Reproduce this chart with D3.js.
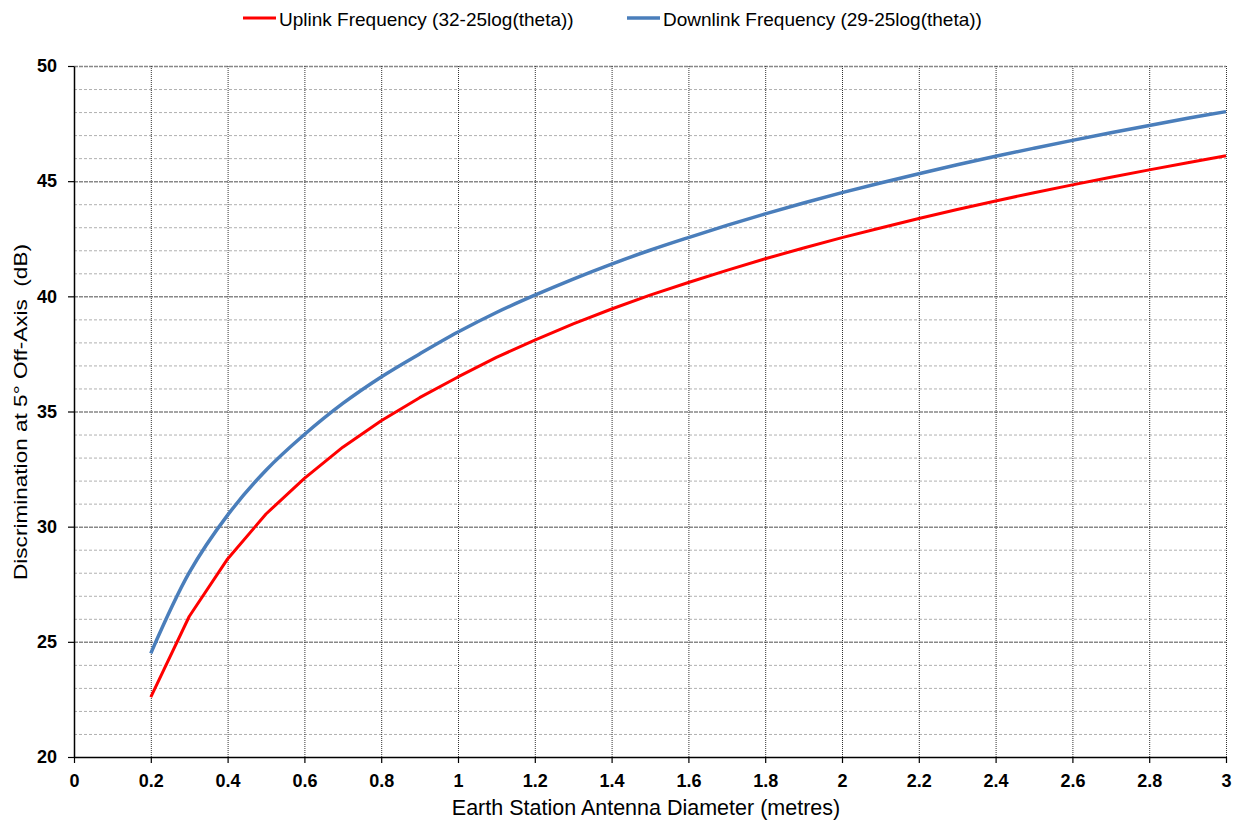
<!DOCTYPE html>
<html>
<head>
<meta charset="utf-8">
<script src="https://cdn.jsdelivr.net/npm/d3@7"></script>
<style>
  body { margin: 0; background: #fff; }
  svg { font-family: "Liberation Sans", Arial, sans-serif; }
</style>
</head>
<body>
<div class="box"></div>
<script>
// diameters (metres)
let diam = [0.2, 0.3, 0.4, 0.5, 0.6, 0.7, 0.8, 0.9, 1.0, 1.1, 1.2, 1.3, 1.4, 1.5,
    1.6, 1.7, 1.8, 1.9, 2.0, 2.1, 2.2, 2.3, 2.4, 2.5, 2.6, 2.7, 2.8, 2.9, 3.0]
let uplink = [22.6, 26.1, 28.6, 30.55, 32.1, 33.45, 34.6, 35.6, 36.5, 37.35, 38.1, 38.8, 39.45, 40.05,
    40.6, 41.13, 41.63, 42.1, 42.55, 42.97, 43.38, 43.77, 44.14, 44.5, 44.84, 45.17, 45.49, 45.8, 46.1]
let downlink = [24.5, 28.0, 30.5, 32.45, 34.0, 35.35, 36.5, 37.5, 38.45, 39.3, 40.05, 40.75, 41.4, 42.0,
    42.55, 43.08, 43.58, 44.05, 44.5, 44.92, 45.32, 45.71, 46.08, 46.43, 46.77, 47.1, 47.42, 47.73, 48.02]
let xTicks = [0, 0.2, 0.4, 0.6, 0.8, 1, 1.2, 1.4, 1.6, 1.8, 2, 2.2, 2.4, 2.6, 2.8, 3]
let yTicks = [20, 25, 30, 35, 40, 45, 50]
let yMinor = d3.range(20, 51, 1)
let seriesNames = ["Uplink Frequency (32-25log(theta))", "Downlink Frequency (29-25log(theta))"]

let W = 1239, H = 822
let pl = 74, pr = 1226, pt = 66, pb = 757

let svg = d3.select('.box').append('svg')
    .attr('width', W).attr('height', H)

let x = d3.scaleLinear().domain([0, 3]).range([pl, pr])
let y = d3.scaleLinear().domain([20, 50]).range([pb, pt])

// minor horizontal grid
svg.append('g').selectAll('line').data(yMinor.filter(v => v % 5 != 0)).join('line')
    .attr('x1', pl).attr('x2', pr)
    .attr('y1', d => y(d) + 0.5).attr('y2', d => y(d) + 0.5)
    .style('stroke', '#b0b0b0').style('stroke-width', 1).style('stroke-dasharray', '3,2')

// major horizontal grid
svg.append('g').selectAll('line').data(yTicks.filter(v => v > 20)).join('line')
    .attr('x1', pl).attr('x2', pr)
    .attr('y1', d => y(d) + 0.5).attr('y2', d => y(d) + 0.5)
    .style('stroke', '#888').style('stroke-width', 1.5).style('stroke-dasharray', '4,1')

// vertical grid
svg.append('g').selectAll('line').data(xTicks.filter(v => v > 0)).join('line')
    .attr('x1', d => x(d) + 0.5).attr('x2', d => x(d) + 0.5)
    .attr('y1', pt).attr('y2', pb)
    .style('stroke', '#333').style('stroke-width', 1).style('stroke-dasharray', '1,1')

// axes
let xAxis = svg.append('g')
    .attr('transform', `translate(0,${pb})`)
    .call(d3.axisBottom(x).tickValues(xTicks).tickSize(6).tickSizeOuter(0)
        .tickFormat(d3.format('~g')))
let yAxis = svg.append('g')
    .attr('transform', `translate(${pl},0)`)
    .call(d3.axisLeft(y).tickValues(yTicks).tickSize(6).tickSizeOuter(0))

;[xAxis, yAxis].forEach(a => {
    a.select('.domain').style('stroke', '#000').style('stroke-width', 1.5)
    a.selectAll('.tick line').style('stroke', '#000').style('stroke-width', 1.2)
    a.selectAll('.tick text')
        .style('font-size', '18px').style('font-weight', 'bold').style('fill', '#000')
        .style('font-family', '"Liberation Sans", Arial, sans-serif')
})
xAxis.selectAll('.tick text').attr('y', 17)
yAxis.selectAll('.tick text').attr('x', -17)

// lines
let upData = diam.map((d, i) => [d, uplink[i]])
let downData = diam.map((d, i) => [d, downlink[i]])

svg.append('path').datum(upData)
    .attr('d', d3.line().x(d => x(d[0])).y(d => y(d[1])))
    .style('fill', 'none').style('stroke', '#ff0000').style('stroke-width', 3)
    .style('stroke-linejoin', 'round')

svg.append('path').datum(downData)
    .attr('d', d3.line().curve(d3.curveCatmullRom).x(d => x(d[0])).y(d => y(d[1])))
    .style('fill', 'none').style('stroke', '#4a7ebb').style('stroke-width', 3.5)
    .style('stroke-linejoin', 'round')

// axis titles
svg.append('text')
    .attr('x', 646).attr('y', 815)
    .attr('text-anchor', 'middle')
    .style('font-size', '21.5px').style('fill', '#000')
    .text('Earth Station Antenna Diameter (metres)')

svg.append('text')
    .attr('transform', `translate(27,412) rotate(-90)`)
    .attr('text-anchor', 'middle')
    .attr('textLength', 336)
    .attr('lengthAdjust', 'spacingAndGlyphs')
    .style('white-space', 'pre')
    .style('font-size', '19px').style('fill', '#000')
    .text('Discrimination at 5° Off-Axis  (dB)')

// legend
let legend = [
    { name: seriesNames[0], color: '#ff0000', w: 3, x0: 243 },
    { name: seriesNames[1], color: '#4a7ebb', w: 3.5, x0: 627 }
]
legend.forEach(l => {
    svg.append('line')
        .attr('x1', l.x0).attr('x2', l.x0 + 33).attr('y1', 18).attr('y2', 18)
        .style('stroke', l.color).style('stroke-width', l.w)
    svg.append('text')
        .attr('x', l.x0 + 36).attr('y', 26)
        .style('font-size', '19px').style('fill', '#000')
        .text(l.name)
})
</script>
</body>
</html>
